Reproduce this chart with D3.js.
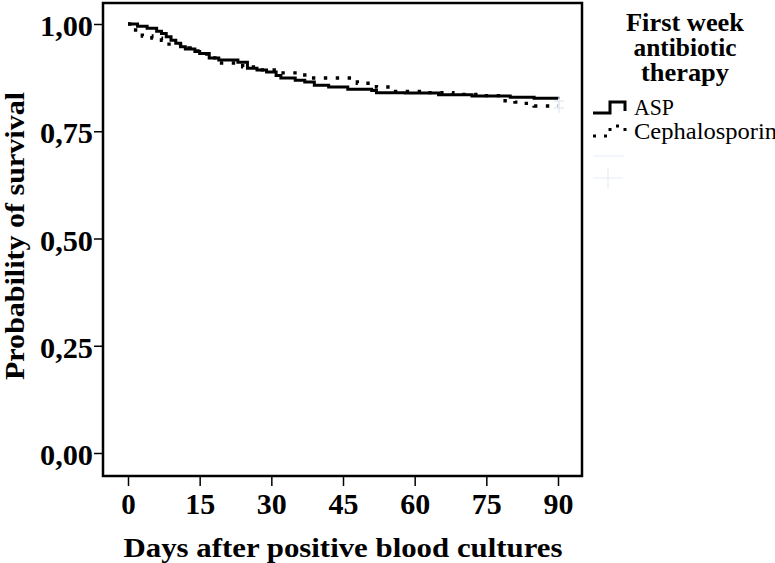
<!DOCTYPE html>
<html>
<head>
<meta charset="utf-8">
<script src="https://cdn.jsdelivr.net/npm/d3@7"></script>
<style>
  html, body { margin: 0; padding: 0; background: #fff; }
  svg { display: block; }
  text { font-family: "Liberation Serif", "Times New Roman", serif; }
</style>
</head>
<body>
<svg id="chart" width="775" height="563"></svg>
<script>
// ---- data ----
const xTicks = [0, 15, 30, 45, 60, 75, 90];
const yTicks = [0, 0.25, 0.5, 0.75, 1];
const yTickLabels = ["0,00", "0,25", "0,50", "0,75", "1,00"];

const aspDays = [0, 2, 4, 6, 7, 8, 9, 10, 11, 12, 14, 15, 17, 19, 23, 25, 27, 29, 31, 32, 35, 37, 39, 42, 46, 51, 52, 58, 65, 72, 80, 85, 90];
const aspSurv = [1.0, 0.995, 0.99, 0.983, 0.978, 0.97, 0.962, 0.955, 0.947, 0.942, 0.936, 0.931, 0.921, 0.916, 0.911, 0.897, 0.893, 0.888, 0.880, 0.874, 0.869, 0.865, 0.857, 0.853, 0.848, 0.845, 0.840, 0.839, 0.835, 0.832, 0.829, 0.827, 0.825];

const cephDays = [0, 1, 3, 5, 7, 8, 11, 13, 15, 17, 19, 24, 27, 31, 37, 48, 52, 56, 62, 68, 74, 78, 81, 83, 85, 90];
const cephSurv = [1.0, 0.986, 0.972, 0.967, 0.962, 0.953, 0.944, 0.937, 0.930, 0.921, 0.909, 0.900, 0.893, 0.886, 0.874, 0.862, 0.853, 0.843, 0.840, 0.836, 0.833, 0.821, 0.818, 0.815, 0.809, 0.809];

const seriesNames = ["ASP", "Cephalosporin"];
const legendTitle = ["First week", "antibiotic", "therapy"];
const xTitle = "Days after positive blood cultures";
const yTitle = "Probability of survival";

// ---- chart ----
const svg = d3.select("#chart");
const x = d3.scaleLinear().domain([0, 90]).range([128, 558]);
const y = d3.scaleLinear().domain([0, 1]).range([453, 24]);
const box = { x0: 103, x1: 582, y0: 3, y1: 476 };

// axes
const yAxis = d3.axisLeft(y).tickValues(yTicks).tickSize(9).tickPadding(1)
  .tickFormat((d, i) => yTickLabels[i]);
const gy = svg.append("g").attr("transform", `translate(${box.x0},0)`).call(yAxis);
gy.select(".domain").remove();
gy.selectAll("line").attr("stroke", "#000").attr("stroke-width", 1.5);
gy.selectAll("text").attr("font-size", 29).attr("font-weight", "bold")
  .attr("font-family", "Liberation Serif").attr("fill", "#000").attr("dy", "0.4em")
  .attr("textLength", 53).attr("lengthAdjust", "spacingAndGlyphs");

const xAxis = d3.axisBottom(x).tickValues(xTicks).tickSize(10).tickPadding(7);
const gx = svg.append("g").attr("transform", `translate(0,${box.y1})`).call(xAxis);
gx.select(".domain").remove();
gx.selectAll("line").attr("stroke", "#000").attr("stroke-width", 1.5);
gx.selectAll("text").attr("font-size", 29).attr("font-weight", "bold")
  .attr("font-family", "Liberation Serif").attr("fill", "#000")
  .each(function(d) { if (d !== 0) d3.select(this).attr("textLength", 30).attr("lengthAdjust", "spacingAndGlyphs"); });

// plot frame
svg.append("rect")
  .attr("x", box.x0).attr("y", box.y0)
  .attr("width", box.x1 - box.x0).attr("height", box.y1 - box.y0)
  .attr("fill", "none").attr("stroke", "#000").attr("stroke-width", 2.5);

// curves
const line = d3.line().x(d => x(d[0])).y(d => y(d[1])).curve(d3.curveStepAfter);
const aspData = aspDays.map((d, i) => [d, aspSurv[i]]);
const cephData = cephDays.map((d, i) => [d, cephSurv[i]]);

svg.append("path").datum(cephData).attr("d", line)
  .attr("fill", "none").attr("stroke", "#000").attr("stroke-width", 3.4)
  .attr("stroke-dasharray", "3.4 8.5");
svg.append("path").datum(aspData).attr("d", line)
  .attr("fill", "none").attr("stroke", "#000").attr("stroke-width", 3);

// faint censor marks at the ends
[aspData, cephData].forEach(data => {
  const last = data[data.length - 1];
  const cx = x(last[0]) + 1, cy = y(last[1]) + 2;
  svg.append("path").attr("d", `M${cx - 5},${cy}H${cx + 5}M${cx},${cy - 5}V${cy + 5}`)
    .attr("stroke", "#dfe7f3").attr("stroke-width", 1.2).attr("fill", "none");
});

// axis titles
svg.append("text").attr("x", x(45)).attr("y", 557).attr("text-anchor", "middle")
  .attr("font-size", 28).attr("font-weight", "bold").attr("textLength", 439)
  .attr("lengthAdjust", "spacingAndGlyphs").text(xTitle);
svg.append("text").attr("transform", "translate(24,236) rotate(-90)")
  .attr("text-anchor", "middle").attr("font-size", 28).attr("font-weight", "bold")
  .attr("textLength", 288).attr("lengthAdjust", "spacingAndGlyphs").text(yTitle);

// legend
const lg = svg.append("g");
const titleLens = [118, 103, 88];
legendTitle.forEach((t, i) => {
  lg.append("text").attr("x", 685).attr("y", 31 + i * 25).attr("text-anchor", "middle")
    .attr("font-size", 25).attr("font-weight", "bold")
    .attr("textLength", titleLens[i]).attr("lengthAdjust", "spacingAndGlyphs").text(t);
});
// ASP icon (solid step)
lg.append("path").attr("d", "M593,113H610V102H625V111")
  .attr("fill", "none").attr("stroke", "#000").attr("stroke-width", 3);
// Cephalosporin icon (dotted step)
lg.append("path").attr("d", "M593,136H610V126H625V136")
  .attr("fill", "none").attr("stroke", "#000").attr("stroke-width", 3)
  .attr("stroke-dasharray", "3 8");
const itemLens = [40, 143];
seriesNames.forEach((s, i) => {
  lg.append("text").attr("x", 634).attr("y", 115 + i * 24)
    .attr("font-size", 23).attr("textLength", itemLens[i])
    .attr("lengthAdjust", "spacingAndGlyphs").text(s);
});
// faint censored legend entries
lg.append("line").attr("x1", 593).attr("x2", 624).attr("y1", 156).attr("y2", 156)
  .attr("stroke", "#e6ecf6").attr("stroke-width", 1);
lg.append("path").attr("d", "M593,178H623M608,168V188")
  .attr("stroke", "#e6ecf6").attr("stroke-width", 1.2).attr("fill", "none");
</script>
</body>
</html>
